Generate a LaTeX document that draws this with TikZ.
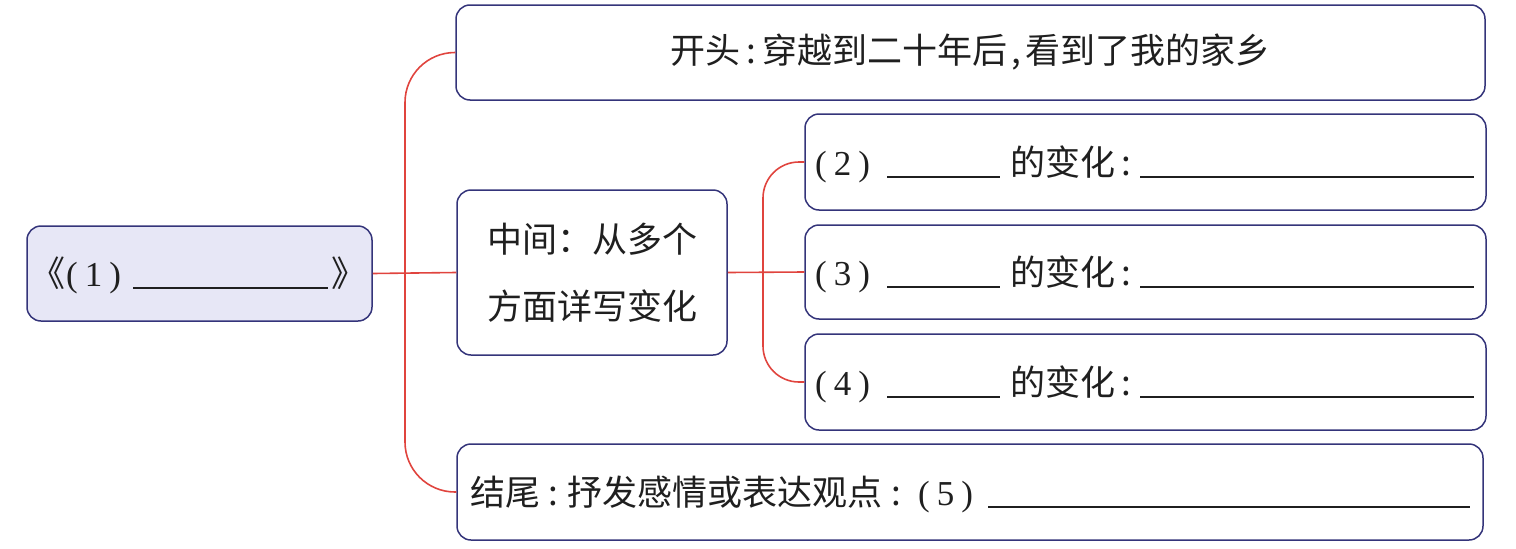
\documentclass[tikz,border=0pt]{standalone}
\usepackage{fontspec}
\setmainfont{Noto Sans CJK SC}
\newfontfamily\numfont{Liberation Serif}
\newcommand{\blankline}[1]{\rule[-3pt]{#1}{1.6pt}}
\newcommand{\pnum}[1]{{\numfont(\kern7pt#1\kern7pt)}}
\definecolor{boxline}{HTML}{34347A}
\definecolor{connred}{HTML}{E0443E}
\definecolor{rootfill}{HTML}{E7E7F6}
\begin{document}
\begin{tikzpicture}[x=1pt,y=-1pt,
  box/.style={draw=boxline, line width=1.5pt, rounded corners=14pt, inner sep=0pt},
  conn/.style={draw=connred, line width=1.6pt},
  lbl/.style={font=\fontsize{35}{67}\selectfont, inner sep=0pt, text=black!88}]
\useasboundingbox (0,0) rectangle (1516,549);
% boxes
\node[box, fill=rootfill, minimum width=345pt, minimum height=95pt] (root) at (199.5,273.5) {};
\node[box, lbl, minimum width=1029pt, minimum height=95pt] (top) at (970.5,52.5)
  {开头\makebox[22pt][c]{:}穿越到二十年后\makebox[18pt][c]{,}看到了我的家乡};
\node[box, lbl, align=center, minimum width=270pt, minimum height=165pt] (mid) at (592,272.5)
  {中间：从多个\\方面详写变化};
\node[box, minimum width=681pt, minimum height=96pt] (box2) at (1145.5,162) {};
\node[box, minimum width=681pt, minimum height=94pt] (box3) at (1145.5,272) {};
\node[box, minimum width=681pt, minimum height=96pt] (box4) at (1145.5,382) {};
\node[box, minimum width=1026pt, minimum height=96pt] (bottom) at (970,492) {};
% texts
\node[lbl, anchor=base west] (roottext) at (30,286)
  {\makebox[103pt][l]{《\kern1pt\pnum{1}}\blankline{195pt}\hspace{3pt}》};
\node[lbl, anchor=base west] (t2) at (815,175)
  {\makebox[72pt][l]{\pnum{2}}\blankline{113pt}\hspace{10pt}\makebox[130pt][l]{的变化\,:}\blankline{334pt}};
\node[lbl, anchor=base west] (t3) at (815,285)
  {\makebox[72pt][l]{\pnum{3}}\blankline{113pt}\hspace{10pt}\makebox[130pt][l]{的变化\,:}\blankline{334pt}};
\node[lbl, anchor=base west] (t4) at (815,395)
  {\makebox[72pt][l]{\pnum{4}}\blankline{113pt}\hspace{10pt}\makebox[130pt][l]{的变化\,:}\blankline{334pt}};
\node[lbl, anchor=base west] (t5) at (470,505)
  {结尾\makebox[27pt][c]{:}抒发感情或表达观点\makebox[36pt][l]{\hspace{9pt}:}\makebox[70pt][l]{\pnum{5}}\blankline{482pt}};
% connectors
\coordinate (trunkA) at (405,273);
\coordinate (trunkB) at (763,273);
\draw[conn] (root.east) -- (mid.west);
\draw[conn, rounded corners=50pt] (top.west) -| (trunkA) |- (bottom.west);
\draw[conn] (mid.east) -- (box3.west);
\draw[conn, rounded corners=36pt] (box2.west) -| (trunkB) |- (box4.west);
\end{tikzpicture}
\end{document}
